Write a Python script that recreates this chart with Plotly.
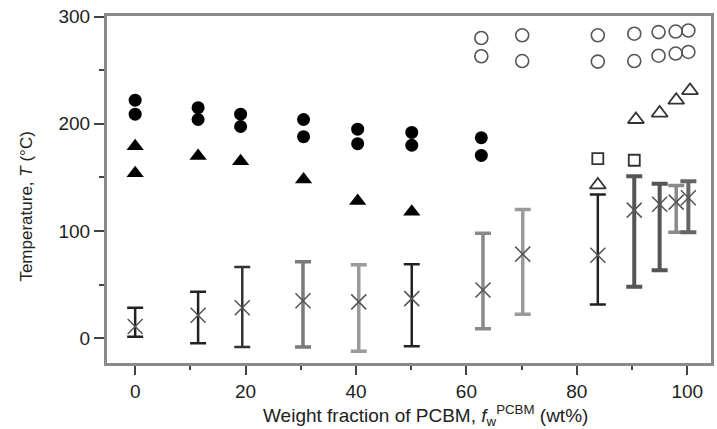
import plotly.graph_objects as go

# Filled circles (two transition temperatures per composition)
fc_x = [0, 0, 11.4, 11.4, 19.1, 19.1, 30.5, 30.5, 40.3, 40.3, 50.1, 50.1, 62.7, 62.7]
fc_y = [222, 209, 215, 204, 209, 197.5, 204, 188, 195, 181.5, 192, 180, 187, 170.5]

# Filled triangles
ft_x = [0, 0, 11.4, 19.1, 30.5, 40.3, 50.1]
ft_y = [179, 154, 170, 165, 148, 128, 118]

# Open circles
oc_x = [62.7, 62.7, 70.1, 70.1, 83.8, 83.8, 90.4, 90.4, 94.8, 94.8, 97.9, 97.9, 100.2, 100.2]
oc_y = [280, 263, 282.5, 258.5, 282.5, 258, 284, 258.5, 285.5, 263.5, 286, 265.5, 287, 267]

# Open triangles
ot_x = [83.8, 90.7, 95.0, 98.0, 100.5]
ot_y = [143, 204, 210, 222, 231]

# Open squares
os_x = [83.8, 90.4]
os_y = [167.5, 166]

# Crosses with error bars
cr_x = [0, 11.4, 19.4, 30.4, 40.5, 50.1, 63.0, 70.2, 83.8, 90.4, 95.0, 98.0, 100.2]
cr_y = [11, 21.5, 28.5, 35, 34, 37, 45, 78.5, 77.5, 119.5, 125, 127, 131]
cr_top = [28.5, 43.5, 66.5, 71.5, 68.5, 69, 98, 120, 134, 151, 144, 142.5, 146.5]
cr_bot = [1.5, -4.5, -8, -8, -12, -7.5, 9, 22.5, 31.5, 48, 63.5, 99, 99]
cr_col = ["#222222", "#222222", "#333333", "#7a7a7a", "#9a9a9a", "#222222", "#8a8a8a",
          "#9a9a9a", "#222222", "#555555", "#555555", "#8a8a8a", "#666666"]
cr_w = [2.5, 2.5, 2.5, 3.5, 3.5, 2.5, 3.5, 3.5, 2.5, 4, 4, 3.5, 4]

x_ticks = [0, 20, 40, 60, 80, 100]
y_ticks = [0, 100, 200, 300]

fig = go.Figure()

for i in range(len(cr_x)):
    fig.add_trace(go.Scatter(
        x=[cr_x[i]], y=[cr_y[i]], mode="markers",
        marker=dict(size=1, color="rgba(0,0,0,0)"),
        error_y=dict(type="data", symmetric=False,
                     array=[cr_top[i] - cr_y[i]], arrayminus=[cr_y[i] - cr_bot[i]],
                     color=cr_col[i], thickness=cr_w[i], width=8),
        showlegend=False, hoverinfo="skip"))

fig.add_trace(go.Scatter(x=cr_x, y=cr_y, mode="markers",
                         marker=dict(symbol="x-thin", size=15, color="#555555",
                                     line=dict(color="#555555", width=1.5)),
                         showlegend=False))

fig.add_trace(go.Scatter(x=fc_x, y=fc_y, mode="markers",
                         marker=dict(symbol="circle", size=13, color="black"),
                         showlegend=False))
fig.add_trace(go.Scatter(x=ft_x, y=ft_y, mode="markers",
                         marker=dict(symbol="triangle-up", size=15, color="black"),
                         showlegend=False))
fig.add_trace(go.Scatter(x=oc_x, y=oc_y, mode="markers",
                         marker=dict(symbol="circle-open", size=13, color="#555555",
                                     line=dict(color="#555555", width=1.6)),
                         showlegend=False))
fig.add_trace(go.Scatter(x=ot_x, y=ot_y, mode="markers",
                         marker=dict(symbol="triangle-up-open", size=14, color="#333333",
                                     line=dict(color="#333333", width=1.8)),
                         showlegend=False))
fig.add_trace(go.Scatter(x=os_x, y=os_y, mode="markers",
                         marker=dict(symbol="square-open", size=11, color="#333333",
                                     line=dict(color="#333333", width=1.8)),
                         showlegend=False))

axis_common = dict(showline=True, linecolor="#8a8a8a", linewidth=3, mirror=True,
                   showgrid=False, zeroline=False, ticks="outside",
                   tickcolor="#444444", tickwidth=2,
                   tickfont=dict(family="Liberation Sans, Arial, sans-serif",
                                 size=19, color="#222222"))

fig.update_layout(
    width=717, height=429,
    margin=dict(l=107, r=3, t=16, b=66),
    paper_bgcolor="white", plot_bgcolor="white",
    xaxis=dict(range=[-5.1, 104.3], tickvals=x_ticks, ticklen=9,
               minor=dict(dtick=10, ticks="outside", ticklen=4, tickcolor="#444444", tickwidth=2),
               **axis_common),
    yaxis=dict(range=[-23, 300.5], tickvals=y_ticks, ticklen=10,
               minor=dict(dtick=50, ticks="outside", ticklen=5, tickcolor="#444444", tickwidth=2),
               **axis_common),
    annotations=[
        dict(text="Temperature, <i>T</i> (°C)", xref="paper", yref="paper",
             x=-0.1334, y=0.452, xanchor="center", yanchor="middle", textangle=-90,
             showarrow=False,
             font=dict(family="Liberation Sans, Arial, sans-serif", size=17, color="#222222")),
        dict(text="Weight fraction of PCBM, <i>f</i><sub>w</sub><sup>PCBM</sup> (wt%)",
             xref="paper", yref="paper", x=0.527, y=-0.152,
             xanchor="center", yanchor="middle", showarrow=False,
             font=dict(family="Liberation Sans, Arial, sans-serif", size=19, color="#222222")),
    ],
)

fig.write_html("out.html")
